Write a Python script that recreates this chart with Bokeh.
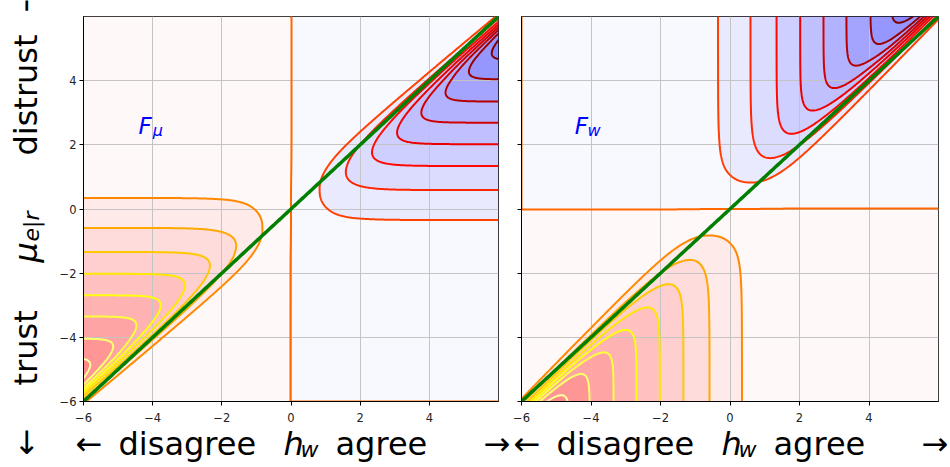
import numpy as np
from bokeh.plotting import figure
from bokeh.models import Range1d, FixedTicker, Label
from bokeh.layouts import row, column
from bokeh.core.properties import value
from bokeh.embed import file_html
from bokeh.resources import INLINE

# ---------------- data ----------------
line_levels = list(range(-9, 10))          # contour lines (0 = zero line)
fill_levels = list(range(-11, 12))         # filled bands
# left panel: mu_{e|r} at which each positive contour runs flat for large h_w
contour_levels_pos = [1, 2, 3, 4, 5, 6, 7, 8]
asymptote_mu = [-0.34, 0.59, 1.34, 2.02, 2.69, 3.35, 4.04, 4.63]
g_nodes_mu = [-6.0] + asymptote_mu + [5.35, 6.0]
g_nodes_val = [0.0] + contour_levels_pos + [9.0, 9.85]
ticks = [-6, -4, -2, 0, 2, 4]
tick_text = {t: ("\u2212%d" % -t if t < 0 else str(t)) for t in ticks}

h_axis = np.linspace(-6, 6, 400)
mu_axis = np.linspace(-6, 6, 400)


def g(mu):
    return np.interp(mu, g_nodes_mu, g_nodes_val)


def G(h, mu):
    mp = np.maximum(mu, 0.0)
    k = 1.5 + 0.62 * mp
    d0 = 0.09 * (mp - 2.3)
    return g(mu) / (1.0 + np.exp(-k * (h - mu - d0)))


def F_mu(h, mu):
    s = np.sign(h)
    return s * np.tanh(1.15 * np.abs(h)) * G(np.abs(h), s * mu)


def F_w(h, mu):
    return F_mu(mu, h)


H, M = np.meshgrid(h_axis, mu_axis)
Z_mu = F_mu(H, M)
Z_w = F_w(H, M)


# ---------------- colours ----------------
def hot(t):
    r = min(1.0, t / 0.365)
    gg = min(1.0, max(0.0, (t - 0.365) / 0.381))
    b = min(1.0, max(0.0, (t - 0.746) / 0.254))
    return "#%02x%02x%02x" % (round(255 * r), round(255 * gg), round(255 * b))


line_colors = [hot(0.5 - 0.04 * k) if k > 0 else hot(0.52 - 0.048 * k) for k in line_levels]

fill_colors = []
for a in fill_levels[:-1]:
    v = a + 0.5
    f = min(abs(v) / 10.0, 1.0)
    c = round(255 * (1 - 0.55 * f))
    fill_colors.append("#%02x%02x%02x" % ((c, c, 255) if v > 0 else (255, c, c)))

FONT = "DejaVu Sans"


def make_panel(Z, bl, fw, br, ylabels):
    p = figure(frame_width=fw, frame_height=385,
               x_range=Range1d(-6, 6), y_range=Range1d(-6, 6),
               output_backend="svg", toolbar_location=None,
               min_border_left=bl, min_border_right=br,
               min_border_top=16, min_border_bottom=24)
    p.background_fill_color = "white"
    p.border_fill_color = "white"
    p.outline_line_color = "black"
    p.outline_line_width = 1
    for ax in (p.xaxis[0], p.yaxis[0]):
        ax.ticker = FixedTicker(ticks=ticks)
        ax.major_label_overrides = dict(tick_text)
        ax.major_tick_out = 4
        ax.major_tick_in = 0
        ax.minor_tick_line_color = None
        ax.major_label_text_font = FONT
        ax.major_label_text_font_size = "11.5px"
        ax.major_label_text_color = "#222222"
        ax.axis_line_color = "black"
        ax.major_tick_line_color = "black"
    p.xaxis.major_label_standoff = 7
    p.yaxis.major_label_standoff = 3
    if not ylabels:
        p.yaxis.major_label_overrides = {t: "" for t in ticks}
        p.yaxis.major_label_standoff = 0
    p.grid.grid_line_color = "#c4c4c4"
    p.grid.grid_line_width = 1

    rf = p.contour(h_axis, mu_axis, Z, fill_levels, fill_color=fill_colors, line_color=None)
    rf.level = "image"
    p.contour(h_axis, mu_axis, Z, line_levels, fill_color=None,
              line_color=line_colors, line_width=2)
    p.line(h_axis, h_axis, line_color="#007f00", line_width=3.5)
    return p


def blank(w, h, xr, yr):
    f = figure(width=w, height=h, x_range=Range1d(*xr), y_range=Range1d(*yr),
               output_backend="svg", toolbar_location=None,
               x_axis_location=None, y_axis_location=None,
               min_border=0, min_border_left=0, min_border_right=0,
               min_border_top=0, min_border_bottom=0)
    f.frame_align = False
    f.outline_line_color = None
    f.grid.visible = False
    f.background_fill_color = "white"
    f.border_fill_color = "white"
    return f


def put(f, x, y, t, size, style="normal", angle=0.0, color="black"):
    f.text(x=[x], y=[y], text=[t], angle=angle, text_font=value(FONT),
           text_font_size=value(size), text_font_style=value(style),
           text_color=color, text_align="left", text_baseline="alphabetic")


p1 = make_panel(Z_mu, 35, 415, 14, True)
p2 = make_panel(Z_w, 9, 417, 12, False)

# panel names
for p, sub, xF, xS in ((p1, "\u03bc", -4.41, -4.00), (p2, "w", -4.47, -4.10)):
    p.add_layout(Label(x=xF, y=2.60, text="F", text_font=FONT, text_font_size="23px",
                       text_font_style="italic", text_color="#0000ff",
                       text_align="left", text_baseline="alphabetic"))
    p.add_layout(Label(x=xS, y=2.44, text=sub, text_font=FONT, text_font_size="16px",
                       text_font_style="italic", text_color="#0000ff",
                       text_align="left", text_baseline="alphabetic"))

# y axis label strip (data units = pixels, y up = -screen y)
ylab = blank(48, 467, (0, 48), (-467, 0))
A = np.pi / 2
put(ylab, 25, -455, "\u2190", "32px", angle=A)
put(ylab, 25, -385, "trust", "32px", angle=A)
put(ylab, 25, -262, "\u03bc", "32px", "italic", angle=A)
put(ylab, 31, -241, "e|r", "22px", "italic", angle=A)
put(ylab, 25, -155, "distrust", "32px", angle=A)
put(ylab, 25, -12, "\u2192", "32px", angle=A)


def xlabel(w, dx):
    f = blank(w, 42, (0, w), (-42, 0))
    put(f, 75 - dx, -18, "\u2190", "32px")
    put(f, 118 - dx, -18, "disagree", "32px")
    put(f, 283 - dx, -18, "h", "32px", "italic")
    put(f, 300 - dx, -24, "w", "22px", "italic")
    put(f, 335 - dx, -18, "agree", "32px")
    put(f, 483 - dx, -18, "\u2192", "32px")
    return f


xl1 = xlabel(464, 48)
xl2 = xlabel(438, 74)

layout = row(ylab, column(p1, xl1), column(p2, xl2))
open("out.html", "w").write(file_html(layout, INLINE))
